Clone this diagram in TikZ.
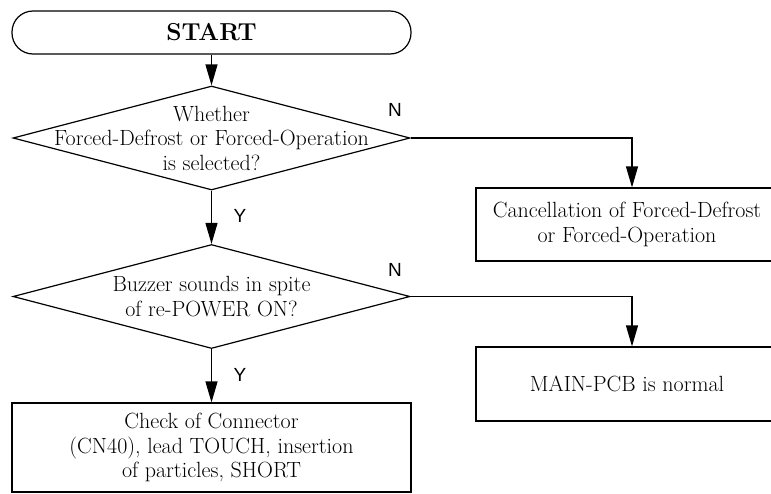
\documentclass[tikz,border=0pt]{standalone}
\usepackage{fontspec}
\newfontfamily\ynfont{Liberation Sans}
\usetikzlibrary{shapes.geometric, arrows.meta, positioning}

\begin{document}
\begin{tikzpicture}[x=1pt, y=-1pt, line width=1.2pt,
    every node/.style={font=\fontsize{22}{24.5}\selectfont},
    term/.style={draw, rounded corners=21pt, minimum width=399pt, minimum height=43pt, inner sep=0pt},
    decision/.style={draw, diamond, minimum width=397pt, minimum height=104pt, inner sep=0pt},
    proc/.style={draw, rectangle, inner sep=0pt, align=center},
    yn/.style={font=\ynfont\fontsize{19}{19}\selectfont},
    arr/.style={-{Triangle[length=21pt,width=12pt]}}]
    \useasboundingbox (0,0) rectangle (771,493);

    \node[term] (start) at (211.5,32.5) {\bfseries\fontsize{24.5}{24.5}\selectfont START};

    \node[decision] (q1) at (211.5,138) {};
    \node[align=center] (q1txt) at (q1) {Whether\\Forced-Defrost or Forced-Operation\\is selected?};
    \node[decision] (q2) at (211.5,296.5) {};
    \node[align=center] (q2txt) at (q2) {Buzzer sounds in spite\\of re-POWER ON?};

    \node[proc, minimum width=302pt, minimum height=73pt] (cancel) at (627,224.5) {Cancellation of Forced-Defrost\\or Forced-Operation};
    \node[proc, minimum width=302pt, minimum height=74pt] (normal) at (627,384) {MAIN-PCB is normal};
    \node[proc, minimum width=399pt, minimum height=89pt] (check) at (211.5,447.5) {Check of Connector\\(CN40), lead TOUCH, insertion\\of particles, SHORT};

    \coordinate (rcol) at (632,0);

    \draw[arr] (start) -- (q1);
    \draw[arr] (q1) -- (q2);
    \draw[arr] (q2) -- (check);
    \draw[arr] (q1.east) -| (rcol |- cancel.north);
    \draw[arr] (q2.east) -| (rcol |- normal.north);

    \node[yn] (n1) at (395,110) {N};
    \node[yn] (y1) at (240,216) {Y};
    \node[yn] (n2) at (395,270) {N};
    \node[yn] (y2) at (240,375) {Y};
\end{tikzpicture}
\end{document}
